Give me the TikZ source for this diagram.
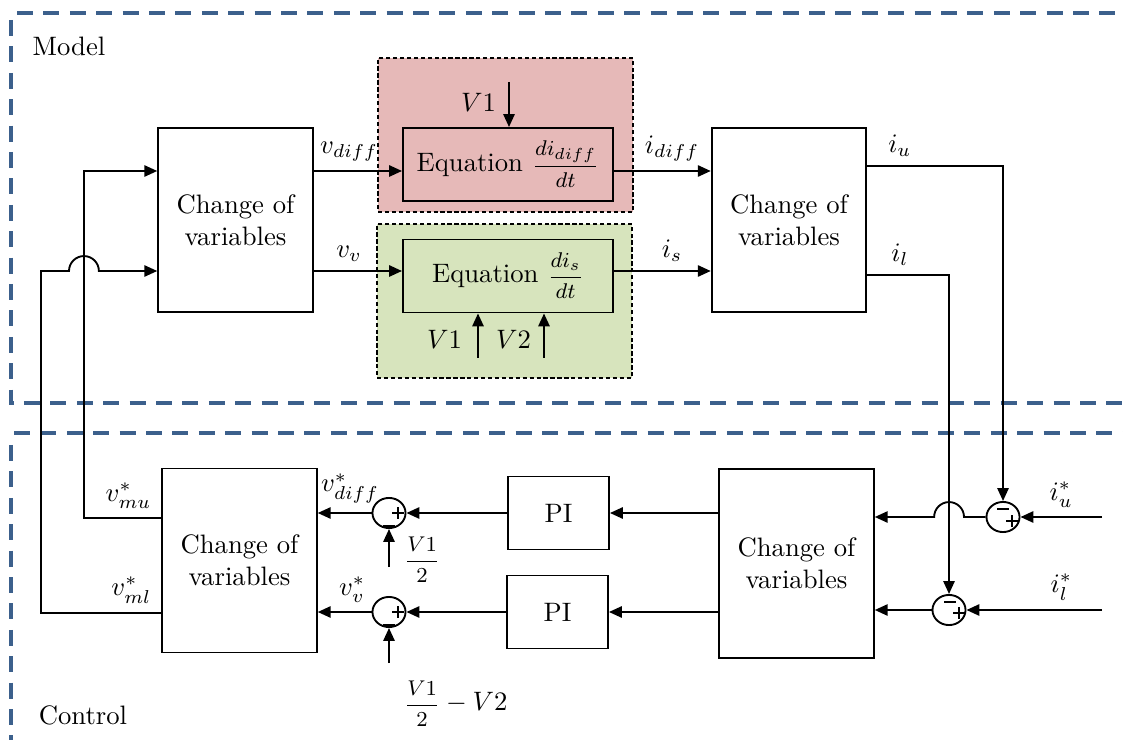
\documentclass[tikz,border=0pt]{standalone}
\usetikzlibrary{arrows.meta,calc,shapes.geometric}
\definecolor{framebl}{RGB}{60,96,140}
\definecolor{redfill}{RGB}{230,185,184}
\definecolor{greenfill}{RGB}{215,228,189}

\begin{document}
\begin{tikzpicture}[x=0.375pt,y=-0.375pt,line width=0.7pt,>={Triangle[length=4.8pt,width=4.2pt]},
  block/.style={draw,align=center,inner sep=0pt,minimum width=58pt,minimum height=69pt},
  eqbox/.style={draw,inner sep=0pt,minimum width=78.8pt,minimum height=27.4pt},
  pibox/.style={draw,inner sep=0pt,minimum width=37.9pt,minimum height=27.4pt},
  sumnode/.style={draw,ellipse,inner sep=0pt,minimum width=12.4pt,minimum height=11.3pt},
  regionbox/.style={draw,dash pattern=on 1.6pt off 1pt,line width=0.5pt,inner sep=0pt,
    minimum width=95.6pt,minimum height=57.8pt},
  secframe/.style={draw=framebl,line width=1.5pt,dash pattern=on 6pt off 3.9pt}]
\useasboundingbox (0,0) rectangle (1123,740);
\newcommand\sumplus[1]{\draw[line width=0.6pt] ($(#1)+(-6,0)$) -- ($(#1)+(6,0)$)
  ($(#1)+(0,-6)$) -- ($(#1)+(0,6)$);}
\newcommand\summinus[1]{\draw[line width=0.6pt] ($(#1)+(-6,0)$) -- ($(#1)+(6,0)$);}
\newcommand\sfrac[2]{{\footnotesize$\displaystyle\frac{#1}{#2}$}}
% section frames
\draw[secframe] (17,13) -- (1123,13);
\draw[secframe] (11,20) -- (11,403) -- (1123,403);
\draw[secframe] (14,433) -- (1123,433);
\draw[secframe] (11,445) -- (11,740);
\node (model) at (69,46) {Model};
\node (control) at (83,715) {Control};
% model part
\node[regionbox,fill=redfill] (redreg) at (505.5,135) {};
\node[regionbox,fill=greenfill] (greenreg) at (504.5,301) {};
\node[block] (cv1) at (235.5,220) {Change of\\variables};
\node[block] (cv2) at (789,220) {Change of\\variables};
\node[eqbox] (eqd) at (508,164.5) {Equation \sfrac{di_{diff}}{dt}};
\node[eqbox] (eqs) at (508,276) {Equation \sfrac{di_s}{dt}};
\coordinate (vtop) at (509,82);
\coordinate (vone) at (478,358);
\coordinate (vtwo) at (544,358);
\draw[->] (vtop) node[anchor=east,xshift=-1.2pt,yshift=-7.5pt] {$V1$} -- (eqd.north -| vtop);
\draw[->] (vone) node[anchor=east,xshift=-2.3pt,yshift=6.8pt] {$V1$} -- (eqs.south -| vone);
\draw[->] (vtwo) node[anchor=east,xshift=-1.2pt,yshift=6.8pt] {$V2$} -- (eqs.south -| vtwo);
\draw[->] (cv1.east |- 0,171) -- node[above,pos=0.4] {$v_{diff}$} (eqd.west |- 0,171);
\draw[->] (cv1.east |- 0,271) -- node[above,pos=0.4] {$v_v$} (eqs.west |- 0,271);
\draw[->] (eqd.east |- 0,171) -- node[above,pos=0.6] {$i_{diff}$} (cv2.west |- 0,171);
\draw[->] (eqs.east |- 0,271) -- node[above,pos=0.6] {$i_s$} (cv2.west |- 0,271);
% control part
\node[block] (cv3) at (239.5,560.5) {Change of\\variables};
\node[block,minimum height=71pt] (cv4) at (796.5,563.5) {Change of\\variables};
\node[pibox] (pi1) at (558.5,513) {PI};
\node[pibox] (pi2) at (557.5,612) {PI};
\node[sumnode] (s1) at (389,513) {};
\node[sumnode] (s2) at (389,612) {};
\node[sumnode] (sr1) at (1003,517) {};
\node[sumnode] (sr2) at (949,610) {};
\sumplus{$(s1)+(9,0)$} \summinus{$(s1)+(0,13)$}
\sumplus{$(s2)+(9,0)$} \summinus{$(s2)+(0,13)$}
\summinus{$(sr1)+(0,-8)$} \sumplus{$(sr1)+(9,4)$}
\summinus{$(sr2)+(1,-8)$} \sumplus{$(sr2)+(10,3)$}
% feedback from the model
\draw[->] (cv2.east |- 0,166) -| node[above,pos=0.12] {$i_u$} (sr1.north);
\draw[->] (cv2.east |- 0,275) -| node[above,pos=0.2] {$i_l$} (sr2.north);
\coordinate (iuin) at (1102,517);
\coordinate (ilin) at (1102,610);
\draw[->] (iuin) -- node[above] {$i^*_u$} (sr1.east);
\draw[->] (ilin) -- node[above,pos=0.3] {$i^*_l$} (sr2.east);
\draw[->] (sr1.west) -- ($(sr1.west -| sr2)+(15,0)$)
  arc[start angle=0,end angle=180,radius=5.6pt] -- (cv4.east |- sr1);
\draw[->] (sr2.west) -- (cv4.east |- sr2);
\draw[->] (cv4.west |- pi1) -- (pi1.east);
\draw[->] (cv4.west |- pi2) -- (pi2.east);
\draw[->] (pi1.west) -- (s1.east);
\draw[->] (pi2.west) -- (s2.east);
\draw[->] (s1.west) -- node[above,pos=0.4] {$v^*_{diff}$} (s1.west -| cv3.east);
\draw[->] (s2.west) -- node[above,pos=0.36] {$v^*_v$} (s2.west -| cv3.east);
\coordinate (vhalf) at (389,567);
\coordinate (vdiff) at (389,663);
\draw[->] (vhalf) node[anchor=west,xshift=2pt,yshift=2.6pt] {\sfrac{V1}{2}} -- (s1.south);
\draw[->] (vdiff) node[anchor=north west,xshift=2pt,yshift=-3.1pt] {\sfrac{V1}{2}${}-V2$} -- (s2.south);
% modulation signals back to the model
\coordinate (bmu) at (84,171);
\coordinate (bml) at (41,271);
\draw[->] (cv3.west |- 0,518) node[above left] {$v^*_{mu}$} -| (bmu) -- (cv1.west |- bmu);
\draw[->] (cv3.west |- 0,613) node[above left] {$v^*_{ml}$} -| (bml)
  -- ($(bmu |- bml)+(-15,0)$) arc[start angle=180,end angle=0,radius=5.6pt] -- (cv1.west |- bml);
\end{tikzpicture}
\end{document}
